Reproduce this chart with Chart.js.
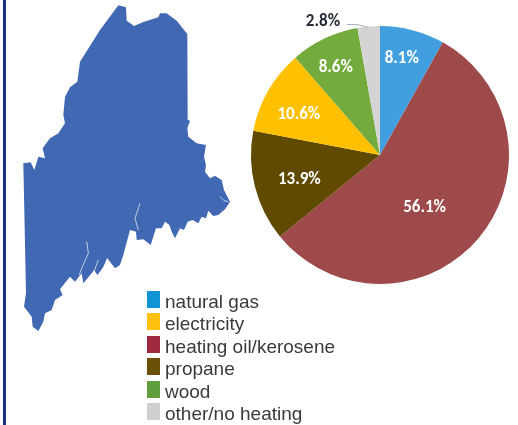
<!DOCTYPE html>
<html><head><meta charset="utf-8">
<style>
html,body{margin:0;padding:0;background:#fff;width:518px;height:425px;overflow:hidden}
#frame{position:absolute;left:3px;top:0;width:3px;height:425px;background:#1c3080}
#map{position:absolute;left:0;top:0;width:250px;height:340px;filter:blur(.5px)}
#wrap{position:absolute;left:0;top:0;width:518px;height:425px}
#legend{position:absolute;left:147px;top:291px;font:19px/22.4px "Liberation Sans",Arial,sans-serif;color:#3a3a3a;filter:blur(.35px)}
#legend div{position:relative;padding-left:18px;height:22.4px;white-space:nowrap}
#legend i{position:absolute;left:0;top:0;width:13px;height:17px}
</style>
<script src="https://cdn.jsdelivr.net/npm/chart.js@4/dist/chart.umd.min.js"></script>
</head><body>
<div id="frame"></div>
<svg id="map" viewBox="0 0 750 1020"><path fill="#4169b3" d="M355 16L378 22L380 62L402 78L430 66L475 52L480 40L500 40L530 62L562 102L563 360L570 362L562 385L565 410L590 430L618 435L612 470L618 495L615 515L630 535L645 527L665 540L672 570L690 605L675 628L655 645L640 648L625 632L618 655L605 650L595 670L578 660L563 665L552 690L540 685L525 715L515 695L508 675L495 665L485 685L468 685L452 735L430 718L410 720L408 695L390 690L382 720L370 765L360 795L345 805L330 785L322 775L310 800L300 815L292 825L282 810L275 820L250 850L245 820L225 845L210 830L190 855L180 868L188 885L165 900L155 930L135 940L130 965L115 993L98 980L95 950L72 920L78 880L70 490L92 487L103 510L115 470L135 475L128 445L150 415L175 400L195 370L190 345L195 290L210 262L232 245L240 185L300 90Z"/><path fill="none" stroke="#fff" stroke-width="2" d="M260 725L265 760L245 805L238 825M295 780L282 815M322 775L316 792M420 610L405 655L415 690M660 590L672 602L685 605"/></svg>
<div id="wrap"><canvas id="c" width="518" height="425"></canvas></div>
<div id="legend"></div>
<script>
const categories=["natural gas","heating oil/kerosene","propane","electricity","wood","other/no heating"];
const shares=[8.1,56.1,13.9,10.6,8.6,2.8];
const sliceColors=["#419fe0","#9e4a4a","#5f4a00","#ffc000","#73ab3c","#d4d4d4"];
const legendOrder=["natural gas","electricity","heating oil/kerosene","propane","wood","other/no heating"];
const legendColors=["#0f95d6","#fdc00f","#a0283f","#6b4f08","#5f9e3a","#cfcfcf"];
const labelColors=["#fff","#fff","#fff","#fff","#fff","#262b38"];
const labelRadius=[100,68,84,91,99,146];
const labelShift=[-2,9,-2,-3,-1,0];
const outerLabelAngle=-23;

const lg=document.getElementById('legend');
legendOrder.forEach((n,i)=>{const d=document.createElement('div');d.textContent=n;
 const s=document.createElement('i');s.style.background=legendColors[i];d.prepend(s);lg.appendChild(d);});

const sliceLabels={id:'sliceLabels',afterDatasetsDraw(ch){
 const ctx=ch.ctx,arcs=ch.getDatasetMeta(0).data;
 ctx.save();ctx.font='bold 17px Carlito,Lato,"Open Sans",sans-serif';ctx.textAlign='center';ctx.textBaseline='middle';
 arcs.forEach((a,i)=>{
  const mid=(a.startAngle+a.endAngle)/2+labelShift[i]*Math.PI/180;
  let x=a.x+Math.cos(mid)*labelRadius[i],y=a.y+Math.sin(mid)*labelRadius[i];
  if(i===5){
    const t=(-90+outerLabelAngle)*Math.PI/180;x=a.x+Math.cos(t)*labelRadius[i];y=a.y+Math.sin(t)*labelRadius[i];
    ctx.strokeStyle='#a9a9bd';ctx.lineWidth=1;ctx.beginPath();
    ctx.moveTo(x+24,y+4);ctx.quadraticCurveTo(x+36,y+3,x+45,y+7);ctx.stroke();
  }
  ctx.fillStyle=labelColors[i];
  ctx.fillText(shares[i].toFixed(1)+'%',x,y+1);
 });
 ctx.restore();
}};
new Chart(document.getElementById('c'),{type:'pie',plugins:[sliceLabels],
 data:{labels:categories,datasets:[{data:shares,backgroundColor:sliceColors,borderWidth:0}]},
 options:{responsive:false,animation:false,
  layout:{padding:{left:251,right:9,top:26,bottom:141}},
  plugins:{legend:{display:false},tooltip:{enabled:false}}}});
</script>
</body></html>
